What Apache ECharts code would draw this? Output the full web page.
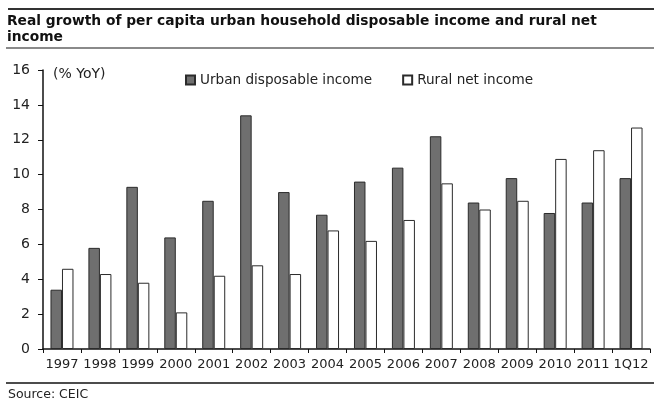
<!DOCTYPE html>
<html>
<head>
<meta charset="utf-8">
<script src="https://cdn.jsdelivr.net/npm/echarts@6/dist/echarts.min.js"></script>
<style>
  html, body { margin: 0; padding: 0; background: #fff; }
  #growth { width: 654px; height: 402px; }
</style>
</head>
<body>
<div id="growth"></div>
<script>
// categories and values
var years = ['1997', '1998', '1999', '2000', '2001', '2002', '2003', '2004',
  '2005', '2006', '2007', '2008', '2009', '2010', '2011', '1Q12'];
var urban = [3.4, 5.8, 9.3, 6.4, 8.5, 13.4, 9.0, 7.7, 9.6, 10.4, 12.2, 8.4, 9.8, 7.8, 8.4, 9.8];
var rural = [4.6, 4.3, 3.8, 2.1, 4.2, 4.8, 4.3, 6.8, 6.2, 7.4, 9.5, 8.0, 8.5, 10.9, 11.4, 12.7];
var yTicks = [0, 2, 4, 6, 8, 10, 12, 14, 16];

var font = 'DejaVu Sans, Verdana, sans-serif';
var myChart = echarts.init(document.getElementById('growth'));

var option = {
  animation: false,
  backgroundColor: '#fff',
  textStyle: { fontFamily: font, color: '#222' },
  title: [{
    text: 'Real growth of per capita urban household disposable income and rural net\nincome',
    left: 7,
    top: 13,
    padding: 0,
    textStyle: { fontFamily: font, fontSize: 13.8, fontWeight: 'bold', color: '#111', lineHeight: 16.5 }
  }, {
    text: 'Source: CEIC',
    left: 8,
    top: 388,
    padding: 0,
    textStyle: { fontFamily: font, fontSize: 12.5, fontWeight: 'normal', color: '#222' }
  }],
  graphic: [
    { type: 'line', shape: { x1: 8, y1: 9, x2: 654, y2: 9 }, style: { stroke: '#333', lineWidth: 2 } },
    { type: 'line', shape: { x1: 6, y1: 48, x2: 654, y2: 48 }, style: { stroke: '#8a8a8a', lineWidth: 2 } },
    { type: 'line', shape: { x1: 6, y1: 383, x2: 654, y2: 383 }, style: { stroke: '#111', lineWidth: 1.5 } },
    { type: 'text', left: 53, top: 67, style: { text: '(% YoY)', font: '14px ' + font, fill: '#222' } }
  ],
  legend: {
    left: 185,
    top: 73,
    padding: 0,
    itemGap: 30,
    itemWidth: 9,
    itemHeight: 9,
    icon: 'rect',
    textStyle: { fontFamily: font, fontSize: 13.6, color: '#222' },
    data: ['Urban disposable income', 'Rural net income']
  },
  grid: { left: 43, right: 4, top: 70, bottom: 53, containLabel: false },
  xAxis: {
    type: 'category',
    data: years,
    axisLine: { lineStyle: { color: '#111', width: 1.5 } },
    axisTick: { show: true, length: 4, alignWithLabel: false, lineStyle: { color: '#111' } },
    axisLabel: { interval: 0, margin: 9, fontFamily: font, fontSize: 13, color: '#222' }
  },
  yAxis: {
    type: 'value',
    min: yTicks[0],
    max: yTicks[yTicks.length - 1],
    interval: 2,
    splitLine: { show: false },
    axisLine: { show: true, lineStyle: { color: '#111', width: 1.5 } },
    axisTick: { show: true, length: 5, lineStyle: { color: '#111' } },
    axisLabel: { margin: 13, fontFamily: font, fontSize: 14, color: '#222' }
  },
  series: [{
    name: 'Urban disposable income',
    type: 'bar',
    data: urban,
    barWidth: 11.5,
    barGap: '0%',
    itemStyle: { color: '#6f6f6f', borderColor: '#2b2b2b', borderWidth: 1 }
  }, {
    name: 'Rural net income',
    type: 'bar',
    data: rural,
    barWidth: 11.5,
    barGap: '0%',
    itemStyle: { color: '#ffffff', borderColor: '#2b2b2b', borderWidth: 1 }
  }]
};

myChart.setOption(option);
window.addEventListener('resize', function () {
  myChart.resize();
});
</script>
</body>
</html>
